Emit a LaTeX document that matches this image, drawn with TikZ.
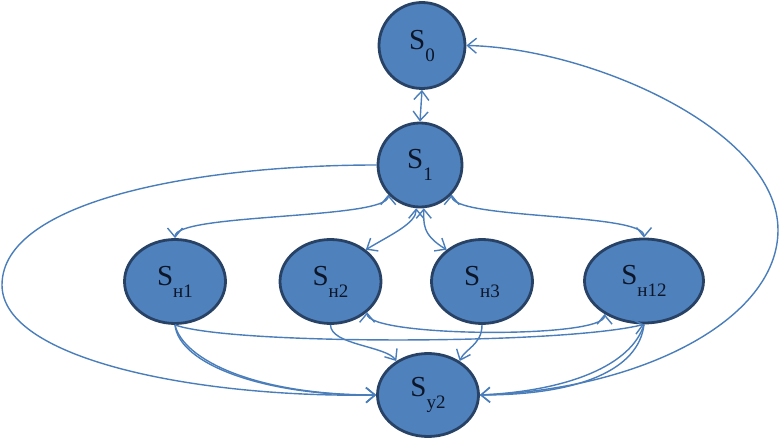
\documentclass[tikz,border=0pt]{standalone}
\usepackage{fontspec}
\setmainfont{Liberation Serif}
\usetikzlibrary{arrows.meta,shapes.geometric}
\definecolor{nodefill}{RGB}{79,129,189}
\definecolor{nodeline}{RGB}{40,66,102}
\definecolor{edgecol}{RGB}{74,126,187}
\definecolor{txtcol}{RGB}{12,22,40}
\newcommand\stlabel[1]{{\fontsize{29}{29}\selectfont S}\raisebox{-12pt}{\fontsize{19}{19}\selectfont #1}}
\begin{document}
\begin{tikzpicture}[x=1pt,y=-1pt,
  stnode/.style={ellipse, draw=nodeline, line width=2.8pt, fill=nodefill, inner sep=0pt, text=txtcol},
  link/.style={draw=edgecol, line width=1.4pt, >={Straight Barb[length=9pt,width=15pt]}}]
\useasboundingbox (0,0) rectangle (780,441);
\node[stnode, minimum width=86pt, minimum height=86pt] (S0) at (422,45.5) {\stlabel{0}};
\node[stnode, minimum width=84pt, minimum height=84pt] (S1) at (420,165) {\stlabel{1}};
\node[stnode, minimum width=101pt, minimum height=84pt] (Sn1) at (175,281.5) {\stlabel{н1}};
\node[stnode, minimum width=101pt, minimum height=84pt] (Sn2) at (330.5,281.5) {\stlabel{н2}};
\node[stnode, minimum width=101pt, minimum height=84pt] (Sn3) at (482,281.5) {\stlabel{н3}};
\node[stnode, minimum width=119pt, minimum height=84pt] (Sn12) at (644,281) {\stlabel{н12}};
\node[stnode, minimum width=101pt, minimum height=83pt] (Sy2) at (428,395) {\stlabel{у2}};

\draw[link,<->] (S0.south) -- (S1.north);
\draw[link,->] (S1.west) .. controls (200,165) and (2,200) .. (2,285) .. controls (2,360) and (200,398) .. (Sy2.west);
\draw[link,<->] (S0.east) .. controls (590,48) and (778,130) .. (778,230) .. controls (778,320) and (640,390) .. (Sy2.east);
\draw[link,<->] (S1.223) .. controls +(0,25) and +(0,-25) .. (Sn1.north);
\draw[link,<->] (S1.-43) .. controls +(0,25) and +(0,-25) .. (Sn12.north);
\draw[link,<->] (S1.265) .. controls +(0,15) and +(25,-15) .. (Sn2.42);
\draw[link,<->] (S1.275) .. controls +(0,15) and +(-25,-15) .. (Sn3.138);
\draw[link,->] (Sn1.south) .. controls +(8,35) and +(-120,0) .. (Sy2.west);
\draw[link,->] (Sn1.south) .. controls +(4,40) and +(-110,1) .. (Sy2.west);
\draw[link,->] (Sn1.south) .. controls (230,345) and (560,345) .. (Sn12.south);
\draw[link,<->] (Sn2.-40) .. controls +(0,25) and +(0,25) .. (Sn12.-140);
\draw[link,->] (Sn2.south) .. controls +(0,20) and +(-10,-15) .. (Sy2.133);
\draw[link,->] (Sn3.south) .. controls +(0,20) and +(5,-12) .. (Sy2.47);
\draw[link,->] (Sn12.south) .. controls +(-5,45) and +(100,0) .. (Sy2.east);
\draw[link] (Sn12.south) .. controls +(-12,40) and +(90,-4) .. (Sy2.east);
\end{tikzpicture}
\end{document}
